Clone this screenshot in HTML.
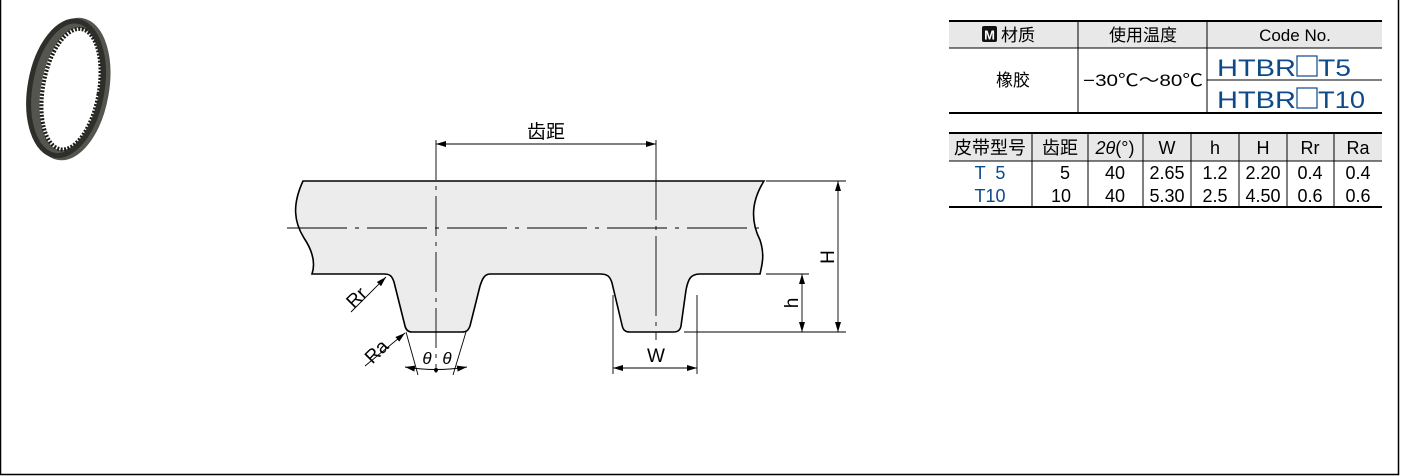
<!DOCTYPE html>
<html><head><meta charset="utf-8"><style>
html,body{margin:0;padding:0;background:#fff;}
body{width:1401px;height:476px;position:relative;overflow:hidden;font-family:"Liberation Sans","Noto Sans CJK SC",sans-serif;}
svg{position:absolute;left:0;top:0;}
</style></head><body>
<svg width="1401" height="476" viewBox="0 0 1401 476" xmlns="http://www.w3.org/2000/svg" font-family="Liberation Sans, Noto Sans CJK SC, sans-serif">
<defs>
<marker id="ar" viewBox="0 0 10 6" refX="10" refY="3" markerWidth="10" markerHeight="6" orient="auto-start-reverse" markerUnits="userSpaceOnUse"><path d="M0,0 L10,3 L0,6 z" fill="#000"/></marker>
</defs>
<path d="M0.5,0 V474.5 H1398.5 V0" fill="none" stroke="#000" stroke-width="1.5"/>
<!-- belt photo -->
<g transform="translate(70,89) rotate(10)">
<ellipse cx="0" cy="0" rx="34" ry="67" fill="none" stroke="#55554f" stroke-width="10"/>
<ellipse cx="1" cy="0" rx="28" ry="61" fill="none" stroke="#1a1a18" stroke-width="4" stroke-dasharray="2 1.5"/>
<ellipse cx="-4" cy="0" rx="36" ry="68" fill="none" stroke="#2e2e2a" stroke-width="5"/>
</g>
<!-- belt profile -->
<path d="M303,181 H764 C752,200 750,220 760,240 C765,255 762,265 760,274 H700 C690,274 688,280 686,290 L681,326 C680,331 677,332 673,332 H630 C625,332 623,330 622,325 L612,283 C610,276 607,274 600,274 H490 C484,274 482,280 480,286 L470,326 C468,331 466,332 462,332 H412 C408,332 406,330 405,326 L394,282 C392,276 390,274 384,274 H312 C316,262 312,250 304,238 C294,222 292,205 303,181 Z" fill="#ececec" stroke="#000" stroke-width="1.6"/>
<line x1="287" y1="228" x2="765" y2="228" stroke="#000" stroke-width="0.9" stroke-dasharray="60 8 4 8"/>
<line x1="436" y1="140" x2="436" y2="373" stroke="#000" stroke-width="0.9" stroke-dasharray="40 6 4 6"/>
<line x1="656" y1="140" x2="656" y2="340" stroke="#000" stroke-width="0.9" stroke-dasharray="80 6 4 6"/>
<line x1="436" y1="144" x2="656" y2="144" stroke="#000" stroke-width="0.9" marker-start="url(#ar)" marker-end="url(#ar)"/>
<text x="546" y="138" font-size="19" text-anchor="middle">齿距</text>
<line x1="766" y1="181" x2="846" y2="181" stroke="#000" stroke-width="0.9"/>
<line x1="684" y1="332" x2="846" y2="332" stroke="#000" stroke-width="0.9"/>
<line x1="766" y1="274" x2="809" y2="274" stroke="#000" stroke-width="0.9"/>
<line x1="838" y1="181" x2="838" y2="332" stroke="#000" stroke-width="0.9" marker-start="url(#ar)" marker-end="url(#ar)"/>
<line x1="802" y1="274" x2="802" y2="332" stroke="#000" stroke-width="0.9" marker-start="url(#ar)" marker-end="url(#ar)"/>
<text x="0" y="0" font-size="19" text-anchor="middle" transform="translate(834,257) rotate(-90)">H</text>
<text x="0" y="0" font-size="19" text-anchor="middle" transform="translate(798,303) rotate(-90)">h</text>
<line x1="613" y1="295" x2="613" y2="374" stroke="#000" stroke-width="0.9"/>
<line x1="697" y1="295" x2="697" y2="374" stroke="#000" stroke-width="0.9"/>
<line x1="613" y1="368" x2="697" y2="368" stroke="#000" stroke-width="0.9" marker-start="url(#ar)" marker-end="url(#ar)"/>
<text x="656" y="362" font-size="19" text-anchor="middle">W</text>
<line x1="406" y1="332" x2="418" y2="375" stroke="#000" stroke-width="0.9"/>
<line x1="466" y1="332" x2="453" y2="375" stroke="#000" stroke-width="0.9"/>
<path d="M405,367 Q436,372 467,367" fill="none" stroke="#000" stroke-width="0.9" marker-start="url(#ar)" marker-end="url(#ar)"/>
<circle cx="436" cy="370" r="2" fill="#000"/>
<text x="427" y="364" font-size="17" font-style="italic" text-anchor="middle">θ</text>
<text x="447" y="364" font-size="17" font-style="italic" text-anchor="middle">θ</text>
<line x1="351" y1="312" x2="386" y2="277" stroke="#000" stroke-width="0.9" marker-end="url(#ar)"/>
<text x="0" y="0" font-size="19" text-anchor="middle" transform="translate(361,302) rotate(-45)">Rr</text>
<line x1="365" y1="366" x2="405" y2="333" stroke="#000" stroke-width="0.9" marker-end="url(#ar)"/>
<text x="0" y="0" font-size="19" text-anchor="middle" transform="translate(381,356) rotate(-45)">Ra</text>

<!-- Table 1 -->
<rect x="949" y="21" width="433" height="27" fill="#e8e8e8"/>
<line x1="949" y1="21" x2="1382" y2="21" stroke="#000" stroke-width="2"/>
<line x1="949" y1="48" x2="1382" y2="48" stroke="#000" stroke-width="1"/>
<line x1="1207" y1="80" x2="1382" y2="80" stroke="#000" stroke-width="1"/>
<line x1="949" y1="113" x2="1382" y2="113" stroke="#000" stroke-width="2"/>
<line x1="1078" y1="21" x2="1078" y2="113" stroke="#000" stroke-width="1"/>
<line x1="1207" y1="21" x2="1207" y2="113" stroke="#000" stroke-width="1"/>
<rect x="982" y="26" width="15" height="16" rx="2" fill="#111"/>
<text x="989.5" y="39.5" font-size="13" font-weight="bold" fill="#fff" text-anchor="middle">M</text>
<text x="1001" y="41" font-size="17">材质</text>
<text x="1143" y="41" font-size="17" text-anchor="middle">使用温度</text>
<text x="1295" y="41" font-size="17" text-anchor="middle">Code No.</text>
<text x="1013" y="86" font-size="17" text-anchor="middle">橡胶</text>
<text x="1143" y="86" font-size="17" text-anchor="middle" textLength="120" lengthAdjust="spacingAndGlyphs">−30℃～80℃</text>
<text x="1217" y="76" font-size="24" fill="#0d4a8a" textLength="79" lengthAdjust="spacingAndGlyphs">HTBR</text>
<rect x="1297" y="56" width="20" height="20" fill="none" stroke="#0d4a8a" stroke-width="1.2"/>
<text x="1318" y="76" font-size="24" fill="#0d4a8a" textLength="33" lengthAdjust="spacingAndGlyphs">T5</text>
<text x="1217" y="108" font-size="24" fill="#0d4a8a" textLength="79" lengthAdjust="spacingAndGlyphs">HTBR</text>
<rect x="1297" y="88" width="20" height="20" fill="none" stroke="#0d4a8a" stroke-width="1.2"/>
<text x="1318" y="108" font-size="24" fill="#0d4a8a" textLength="47" lengthAdjust="spacingAndGlyphs">T10</text>

<!-- Table 2 -->
<rect x="949" y="133" width="433" height="28" fill="#e8e8e8"/>
<line x1="949" y1="133" x2="1382" y2="133" stroke="#000" stroke-width="2"/>
<line x1="949" y1="161" x2="1382" y2="161" stroke="#000" stroke-width="1"/>
<line x1="949" y1="207" x2="1382" y2="207" stroke="#000" stroke-width="2"/>
<g stroke="#000" stroke-width="1">
<line x1="1032" y1="133" x2="1032" y2="207"/><line x1="1088" y1="133" x2="1088" y2="207"/>
<line x1="1143" y1="133" x2="1143" y2="207"/><line x1="1191" y1="133" x2="1191" y2="207"/>
<line x1="1239" y1="133" x2="1239" y2="207"/><line x1="1287" y1="133" x2="1287" y2="207"/>
<line x1="1334" y1="133" x2="1334" y2="207"/>
</g>
<g font-size="18" text-anchor="middle">
<text x="990" y="154">皮带型号</text><text x="1060" y="154">齿距</text>
<text x="1115" y="154"><tspan font-style="italic">2θ</tspan>(°)</text>
<text x="1167" y="154">W</text><text x="1215" y="154">h</text><text x="1263" y="154">H</text>
<text x="1310" y="154">Rr</text><text x="1358" y="154">Ra</text>
<text x="990" y="179" fill="#0d4a8a" xml:space="preserve">T  5</text><text x="1065" y="179">5</text><text x="1115" y="179">40</text>
<text x="1167" y="179">2.65</text><text x="1215" y="179">1.2</text><text x="1263" y="179">2.20</text>
<text x="1310" y="179">0.4</text><text x="1358" y="179">0.4</text>
<text x="990" y="202" fill="#0d4a8a">T10</text><text x="1061" y="202">10</text><text x="1115" y="202">40</text>
<text x="1167" y="202">5.30</text><text x="1215" y="202">2.5</text><text x="1263" y="202">4.50</text>
<text x="1310" y="202">0.6</text><text x="1358" y="202">0.6</text>
</g>
</svg>
</body></html>
